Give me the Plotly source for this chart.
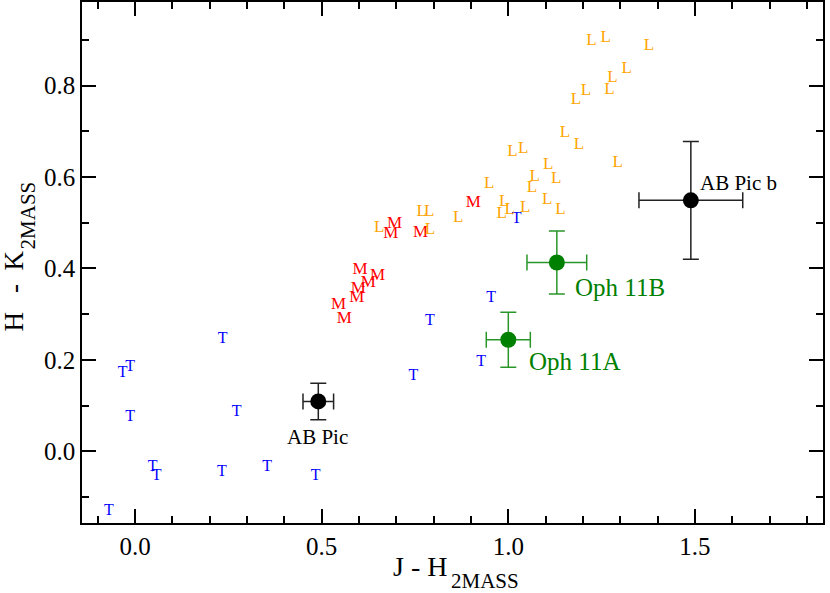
import plotly.graph_objects as go

# colour-colour data
t_x = [-0.070, -0.033, -0.013, -0.013, 0.047, 0.058, 0.235, 0.272, 0.233, 0.354, 0.484,
       0.746, 0.790, 0.927, 0.954, 1.022]
t_y = [-0.130, 0.171, 0.185, 0.075, -0.035, -0.054, 0.245, 0.085, -0.045, -0.035, -0.055,
       0.165, 0.284, 0.196, 0.335, 0.508]

m_x = [0.561, 0.545, 0.594, 0.598, 0.625, 0.650, 0.603, 0.685, 0.695, 0.765, 0.906]
m_y = [0.290, 0.320, 0.335, 0.355, 0.369, 0.384, 0.397, 0.475, 0.497, 0.479, 0.544]

l_x = [0.654, 0.768, 0.788, 0.790, 0.866, 0.949, 0.989, 0.982, 1.004, 1.045, 1.063, 1.071,
       1.104, 1.140, 1.128, 1.107, 1.011, 1.040, 1.189, 1.223, 1.261, 1.377, 1.317, 1.279,
       1.271, 1.181, 1.208, 1.152, 1.293]
l_y = [0.488, 0.525, 0.525, 0.484, 0.510, 0.585, 0.546, 0.519, 0.528, 0.533, 0.576, 0.601,
       0.550, 0.528, 0.596, 0.627, 0.656, 0.661, 0.670, 0.899, 0.905, 0.888, 0.838, 0.818,
       0.792, 0.770, 0.789, 0.697, 0.632]

ab_names = ["AB Pic", "AB Pic b"]
ab_x = [0.491, 1.489]
ab_y = [0.109, 0.549]
ab_xerr = [0.041, 0.139]
ab_yerr = [0.040, 0.129]

oph_names = ["Oph 11A", "Oph 11B"]
oph_x = [1.000, 1.130]
oph_y = [0.244, 0.413]
oph_xerr = [0.059, 0.080]
oph_yerr = [0.060, 0.069]

FONT = "'Liberation Serif', 'Times New Roman', Times, 'DejaVu Serif', serif"
NBSP = "\u00a0"
THIN = "\u2009"


def letters(x, y, letter, color, size=17):
    return go.Scatter(
        x=x, y=y, mode="text", text=[letter] * len(x),
        textposition="middle center",
        textfont=dict(family=FONT, size=size, color=color),
        hoverinfo="skip", showlegend=False,
    )


def with_errors(x, y, xerr, yerr, color, bar_color):
    return go.Scatter(
        x=x, y=y, mode="markers",
        marker=dict(size=16, color=color),
        error_x=dict(type="data", array=xerr, color=bar_color, thickness=1.5, width=8),
        error_y=dict(type="data", array=yerr, color=bar_color, thickness=1.5, width=8),
        showlegend=False,
    )


def label(x, y, text, size, color, xanchor="left", **kw):
    fig.add_annotation(x=x, y=y, text=text, showarrow=False, xanchor=xanchor,
                       yanchor="middle", borderpad=0,
                       font=dict(family=FONT, size=size, color=color), **kw)


fig = go.Figure()
fig.add_trace(letters(t_x, t_y, "T", "#0000ff", size=16))
fig.add_trace(letters(m_x, m_y, "M", "#ff0000"))
fig.add_trace(letters(l_x, l_y, "L", "#ffa500"))
fig.add_trace(with_errors(ab_x, ab_y, ab_xerr, ab_yerr, "black", "#222222"))
fig.add_trace(with_errors(oph_x, oph_y, oph_xerr, oph_yerr, "#008000", "#2a962a"))

# object labels
label(0.490, 0.0315, ab_names[0], 21, "black", xanchor="center")
label(1.510, 0.588, ab_names[1], 21, "black")
label(1.054, 0.196, oph_names[0], 25, "#008000")
label(1.177, 0.3575, oph_names[1], 25, "#008000")

# axis titles with big subscripts, placed by hand
label(0.4939, -0.0835, "J - H", 28, "black", xanchor="right", xref="paper", yref="paper")
label(0.4966, -0.1111, "2MASS", 21, "black", xref="paper", yref="paper")
fig.add_annotation(xref="paper", yref="paper", x=-0.0919, y=0.3666,
                   text=f"H{NBSP}{NBSP}{THIN}-{NBSP}{NBSP}K",
                   textangle=-90, showarrow=False, xanchor="center", yanchor="bottom",
                   borderpad=0, font=dict(family=FONT, size=27, color="black"))
fig.add_annotation(xref="paper", yref="paper", x=-0.0723, y=0.524, text="2MASS",
                   textangle=-90, showarrow=False, xanchor="center", yanchor="bottom",
                   borderpad=0, font=dict(family=FONT, size=21, color="black"))

axis_style = dict(
    showline=True, linecolor="black", linewidth=1.5, mirror="ticks",
    ticks="inside", ticklen=14, tickwidth=1.5, tickcolor="black",
    showgrid=False, zeroline=False, tickformat=".1f", automargin=False,
    tickfont=dict(family=FONT, size=25, color="black"),
)

fig.update_xaxes(range=[-0.142, 1.843], tick0=0, dtick=0.5,
                 minor=dict(ticks="inside", ticklen=7, tickwidth=1.5, tickcolor="black",
                            tick0=0, dtick=0.1),
                 **axis_style)
fig.update_yaxes(range=[-0.157, 0.983], tick0=0, dtick=0.2,
                 minor=dict(ticks="inside", ticklen=7, tickwidth=1.5, tickcolor="black",
                            tick0=0, dtick=0.1),
                 **axis_style)

fig.update_layout(
    width=830, height=593,
    margin=dict(l=82, r=7, t=2, b=70, autoexpand=False),
    plot_bgcolor="white", paper_bgcolor="white",
    font=dict(family=FONT),
)

# drop the browser's default 8px body margin so the figure sits at the page corner
fig.write_html("out.html", config={"displayModeBar": False},
               post_script="document.body.style.margin = '0';")
